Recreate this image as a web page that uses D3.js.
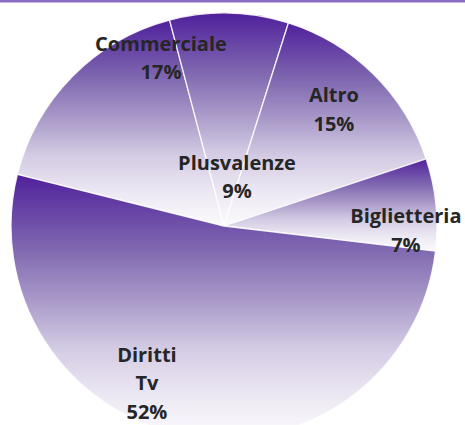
<!DOCTYPE html>
<html>
<head>
<meta charset="utf-8">
<script src="https://cdn.jsdelivr.net/npm/d3@7"></script>
<style>
  html, body { margin: 0; padding: 0; background: #fff; }
  svg { display: block; }
  .lbl { font-family: "Open Sans", sans-serif; font-weight: 700; font-size: 20px; fill: #262626; }
</style>
</head>
<body>
<svg id="chart" width="465" height="425"></svg>
<script>
// slices in clockwise order, starting at the Diritti Tv / Commerciale edge
var categories = ["Commerciale", "Plusvalenze", "Altro", "Biglietteria", "Diritti Tv"];
var values = [17, 9, 15, 7, 52];
var valueLabels = ["17%", "9%", "15%", "7%", "52%"];
// lines of each label (Excel wraps "Diritti Tv")
var labelLines = [["Commerciale"], ["Plusvalenze"], ["Altro"], ["Biglietteria"], ["Diritti", "Tv"]];

var svg = d3.select("#chart");
var width = +svg.attr("width"),
  height = +svg.attr("height");

var cx = 224, cy = 226, radius = 213;
var startDeg = -76;

// label anchors, as a fraction of the radius from the centre (best fit spots)
var labelSpot = {
  "Commerciale": [-0.296, -0.822],
  "Plusvalenze": [0.061, -0.263],
  "Altro": [0.516, -0.582],
  "Biglietteria": [0.854, -0.014],
  "Diritti Tv": [-0.362, 0.638]
};

// thin purple rule at the top
svg.append("rect")
  .attr("x", 0).attr("y", 0)
  .attr("width", width).attr("height", 2.5)
  .attr("fill", "#8b6cc4");

var defs = svg.append("defs");

var pie = d3.pie()
  .sort(null)
  .value(function(d) { return d; })
  .startAngle(startDeg * Math.PI / 180)
  .endAngle((startDeg + 360) * Math.PI / 180);

var arc = d3.arc()
  .innerRadius(0)
  .outerRadius(radius);

var arcs = pie(values);

// one vertical gradient per slice, dark purple at the top of the slice to white
var stops = [
  [0, "#50209c"], [0.28, "#7f68b0"], [0.47, "#a898c8"],
  [0.66, "#d4cce4"], [0.85, "#eeeaf4"], [1, "#fbfafd"]
];
arcs.forEach(function(a, i) {
  var grad = defs.append("linearGradient")
    .attr("id", "grad" + i)
    .attr("x1", 0).attr("y1", 0)
    .attr("x2", 0).attr("y2", 1);
  stops.forEach(function(s) {
    grad.append("stop").attr("offset", s[0]).attr("stop-color", s[1]);
  });
});

var g = svg.append("g")
  .attr("transform", "translate(" + cx + "," + cy + ")");

g.selectAll("path.slice")
  .data(arcs)
  .enter()
  .append("path")
  .attr("class", "slice")
  .attr("d", arc)
  .attr("fill", function(d, i) { return "url(#grad" + i + ")"; })
  .attr("stroke", "rgba(255,255,255,0.85)")
  .attr("stroke-width", 1.3)
  .attr("stroke-linejoin", "round");

var lineHeight = 28.5;

categories.forEach(function(name, i) {
  var spot = labelSpot[name];
  var lines = labelLines[i].concat([valueLabels[i]]);
  var t = g.append("text")
    .attr("class", "lbl")
    .attr("text-anchor", "middle")
    .attr("x", spot[0] * radius)
    .attr("y", spot[1] * radius);
  lines.forEach(function(s, j) {
    t.append("tspan")
      .attr("x", spot[0] * radius)
      .attr("dy", j === 0 ? 0 : lineHeight)
      .text(s);
  });
});
</script>
</body>
</html>
